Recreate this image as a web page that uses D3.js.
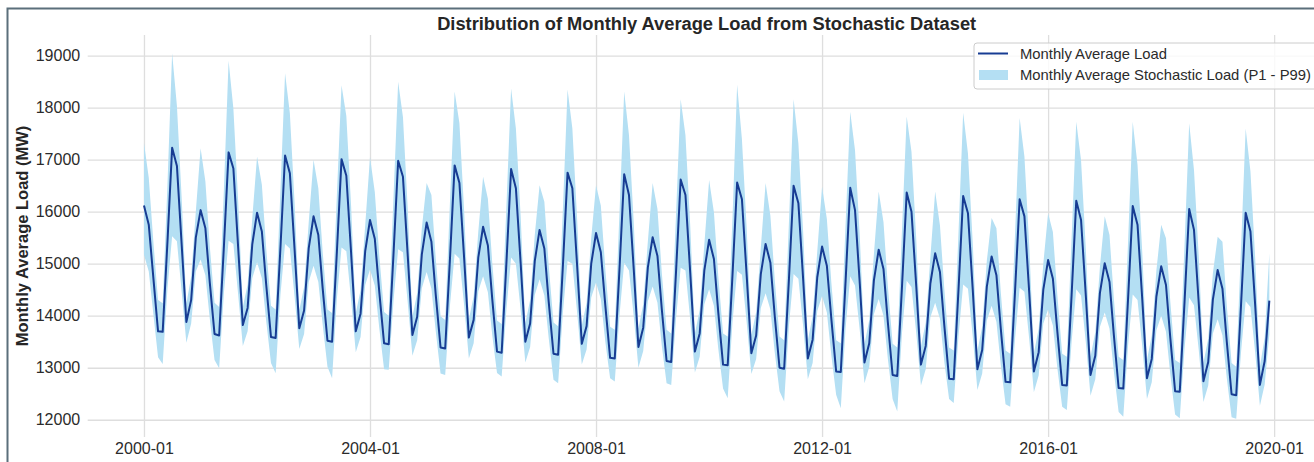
<!DOCTYPE html>
<html>
<head>
<meta charset="utf-8">
<script src="https://cdn.jsdelivr.net/npm/d3@7"></script>
<style>
  html, body { margin: 0; padding: 0; background: #fff; }
  svg { display: block; font-family: "Liberation Sans", Arial, sans-serif; }
  .axis line { stroke: #dedede; stroke-width: 1.3; }
  .axis path { display: none; }
  .axis text { fill: #2b2b2b; font-size: 16px; }
</style>
</head>
<body>
<div id="chart"></div>
<script>
'use strict';

const firstMonth = '2000-01';
const lastMonth = '2019-12';
const xTickLabels = ['2000-01', '2004-01', '2008-01', '2012-01', '2016-01', '2020-01'];
const yTicks = [12000, 13000, 14000, 15000, 16000, 17000, 18000, 19000];

// monthly average load (MW), one row per year, Jan..Dec
const loadMean = [
    16120, 15750, 14750, 13700, 13690, 15430, 17230, 16880, 15350, 13880, 14300, 15500,
    16030, 15680, 14650, 13650, 13620, 15350, 17140, 16830, 15300, 13820, 14150, 15370,
    15980, 15620, 14600, 13590, 13570, 15300, 17080, 16740, 15250, 13760, 14100, 15300,
    15910, 15550, 14530, 13520, 13500, 15230, 17010, 16690, 15200, 13700, 14040, 15240,
    15840, 15480, 14460, 13470, 13450, 15190, 16980, 16670, 15150, 13630, 13980, 15180,
    15790, 15420, 14400, 13390, 13370, 15100, 16890, 16550, 15080, 13580, 13920, 15120,
    15710, 15350, 14330, 13310, 13290, 15030, 16820, 16450, 15000, 13500, 13850, 15050,
    15650, 15290, 14270, 13270, 13250, 14970, 16750, 16450, 14950, 13460, 13800, 15000,
    15590, 15220, 14200, 13190, 13180, 14920, 16720, 16320, 14880, 13400, 13770, 14930,
    15510, 15150, 14130, 13130, 13110, 14840, 16620, 16320, 14820, 13310, 13660, 14870,
    15460, 15090, 14070, 13060, 13050, 14780, 16560, 16240, 14760, 13280, 13620, 14800,
    15380, 15020, 14000, 13000, 12980, 14710, 16500, 16160, 14690, 13180, 13540, 14740,
    15330, 14960, 13940, 12930, 12920, 14660, 16460, 16030, 14610, 13100, 13470, 14680,
    15270, 14900, 13880, 12860, 12840, 14580, 16370, 16000, 14560, 13060, 13420, 14620,
    15200, 14840, 13820, 12790, 12780, 14510, 16300, 15970, 14500, 12970, 13340, 14560,
    15140, 14780, 13760, 12730, 12720, 14450, 16240, 15910, 14450, 12930, 13300, 14500,
    15070, 14710, 13690, 12670, 12660, 14400, 16210, 15840, 14380, 12860, 13230, 14440,
    15010, 14650, 13630, 12610, 12600, 14330, 16110, 15750, 14300, 12800, 13170, 14370,
    14950, 14590, 13570, 12550, 12540, 14270, 16050, 15650, 14230, 12740, 13110, 14310,
    14880, 14520, 13500, 12490, 12470, 14200, 15980, 15620, 14180, 12670, 13130, 14290
];

// P1 of the stochastic monthly average load (MW)
const loadP1 = [
    15170, 14850, 14050, 13200, 13070, 14530, 15530, 15430, 14450, 13480, 13850, 14850,
    15080, 14780, 13950, 13150, 12990, 14450, 15440, 15380, 14400, 13420, 13700, 14720,
    15030, 14720, 13900, 13090, 12895, 14400, 15380, 15290, 14350, 13360, 13650, 14650,
    14960, 14650, 13830, 13020, 12800, 14330, 15310, 15240, 14300, 13300, 13590, 14590,
    14890, 14580, 13760, 12970, 12960, 14290, 15280, 15220, 14250, 13230, 13530, 14530,
    14840, 14520, 13700, 12890, 12860, 14200, 15190, 15100, 14180, 13180, 13470, 14470,
    14760, 14450, 13630, 12900, 12830, 14130, 15120, 15000, 14100, 13100, 13400, 14400,
    14700, 14390, 13570, 12770, 12700, 14070, 15050, 15000, 14050, 13060, 13350, 14350,
    14640, 14320, 13500, 12800, 12735, 14020, 15020, 14870, 13980, 13000, 13320, 14280,
    14560, 14250, 13430, 12700, 12670, 13940, 14920, 14870, 13920, 12910, 13210, 14220,
    14510, 14190, 13370, 12600, 12415, 13880, 14860, 14790, 13860, 12880, 13170, 14150,
    14430, 14120, 13300, 12550, 12350, 13810, 14800, 14710, 13790, 12780, 13090, 14090,
    14380, 14060, 13240, 12480, 12220, 13760, 14760, 14580, 13710, 12700, 13020, 14030,
    14320, 14000, 13180, 12400, 12160, 13680, 14670, 14550, 13660, 12660, 12970, 13970,
    14250, 13940, 13120, 12400, 12320, 13610, 14600, 14520, 13600, 12570, 12890, 13910,
    14190, 13880, 13060, 12300, 12250, 13550, 14540, 14460, 13550, 12530, 12850, 13850,
    14120, 13810, 12990, 12250, 12190, 13500, 14510, 14390, 13480, 12460, 12780, 13790,
    14060, 13750, 12930, 12150, 12060, 13430, 14410, 14300, 13400, 12400, 12720, 13720,
    14000, 13690, 12870, 12100, 12030, 13370, 14350, 14200, 13330, 12340, 12660, 13660,
    13930, 13620, 12800, 12050, 12020, 13300, 14280, 14170, 13280, 12270, 12680, 13640
];

// P99 of the stochastic monthly average load (MW)
const loadP99 = [
    17320, 16650, 15450, 14300, 14240, 16530, 19045, 18030, 16250, 14230, 14750, 16000,
    17220, 16580, 15350, 14250, 14170, 16450, 18900, 17980, 16200, 14170, 14600, 15870,
    17060, 16520, 15300, 14190, 14120, 16400, 18660, 17890, 16150, 14110, 14550, 15800,
    17000, 16450, 15230, 14120, 14050, 16330, 18430, 17840, 16100, 14050, 14490, 15740,
    17050, 16380, 15160, 14070, 14000, 16290, 18500, 17820, 16050, 13980, 14430, 15680,
    16550, 16320, 15100, 13990, 13920, 16200, 18310, 17700, 15980, 13930, 14370, 15620,
    16670, 16250, 15030, 13910, 13840, 16130, 18370, 17600, 15900, 13850, 14300, 15550,
    16510, 16190, 14970, 13870, 13800, 16070, 18350, 17600, 15850, 13810, 14250, 15500,
    16510, 16120, 14900, 13790, 13730, 16020, 18310, 17470, 15780, 13750, 14220, 15430,
    16550, 16050, 14830, 13730, 13660, 15940, 18160, 17470, 15720, 13660, 14110, 15370,
    16610, 15990, 14770, 13660, 13600, 15880, 18440, 17390, 15660, 13630, 14070, 15300,
    16550, 15920, 14700, 13600, 13530, 15810, 18160, 17310, 15590, 13530, 13990, 15240,
    16480, 15860, 14640, 13530, 13470, 15760, 17920, 17180, 15510, 13450, 13920, 15180,
    16390, 15800, 14580, 13460, 13390, 15680, 17830, 17150, 15460, 13410, 13870, 15120,
    16390, 15740, 14520, 13390, 13330, 15610, 17900, 17120, 15400, 13320, 13790, 15060,
    15880, 15680, 14460, 13330, 13270, 15550, 17800, 17060, 15350, 13280, 13750, 15000,
    15970, 15610, 14390, 13270, 13210, 15500, 17730, 16990, 15280, 13210, 13680, 14940,
    15910, 15550, 14330, 13210, 13150, 15430, 17730, 16900, 15200, 13150, 13620, 14870,
    15750, 15490, 14270, 13150, 13090, 15370, 17700, 16800, 15130, 13090, 13560, 14810,
    15520, 15420, 14200, 13090, 13020, 15300, 17600, 16770, 15080, 13020, 13580, 15200
];

const W = 1314, H = 462;
const plot = { left: 87.7, right: 1325.6, top: 35, bottom: 437 };

const parseMonth = d3.timeParse('%Y-%m');
const fmtMonth = d3.timeFormat('%Y-%m');
const months = d3.timeMonth.range(parseMonth(firstMonth), d3.timeMonth.offset(parseMonth(lastMonth), 1));
const series = months.map((date, i) => ({ date, mean: loadMean[i], p1: loadP1[i], p99: loadP99[i] }));

// 5% padding on both axes, like the plotting library did
let t0 = months[0].getTime(), t1 = months[months.length - 1].getTime();
let tPad = (t1 - t0) * 0.05;
let x = d3.scaleTime()
          .domain([new Date(t0 - tPad), new Date(t1 + tPad)])
          .range([plot.left, plot.right]);

let yMin = d3.min(loadP1), yMax = d3.max(loadP99);
let yPad = (yMax - yMin) * 0.05;
let y = d3.scaleLinear()
          .domain([yMin - yPad, yMax + yPad])
          .range([plot.bottom, plot.top]);

let svg = d3.select('#chart').append('svg')
            .attr('width', W)
            .attr('height', H);

// outer frame of the screenshot
svg.append('path')
   .attr('d', `M7.5,${H} V8.5 H${W}`)
   .attr('fill', 'none')
   .attr('stroke', '#5b6f7b')
   .attr('stroke-width', 2);

let xAxis = d3.axisBottom(x)
              .tickValues(xTickLabels.map(parseMonth))
              .tickFormat(fmtMonth)
              .tickSize(-(plot.bottom - plot.top))
              .tickPadding(6);
let yAxis = d3.axisLeft(y)
              .tickValues(yTicks)
              .tickFormat(d3.format('d'))
              .tickSize(-(plot.right - plot.left))
              .tickPadding(7.5);

svg.append('g').attr('class', 'x axis')
   .attr('transform', `translate(0,${plot.bottom})`)
   .call(xAxis);
svg.append('g').attr('class', 'y axis')
   .attr('transform', `translate(${plot.left},0)`)
   .call(yAxis);

let band = d3.area()
             .x(d => x(d.date))
             .y0(d => y(d.p1))
             .y1(d => y(d.p99));
let meanLine = d3.line()
                 .x(d => x(d.date))
                 .y(d => y(d.mean));

svg.append('path')
   .attr('d', band(series))
   .attr('fill', '#b4dff3');
svg.append('path')
   .attr('d', meanLine(series))
   .attr('fill', 'none')
   .attr('stroke', '#173c93')
   .attr('stroke-width', 2)
   .attr('stroke-linejoin', 'round');

// title and y label
svg.append('text')
   .attr('x', (plot.left + plot.right) / 2)
   .attr('y', 30)
   .attr('text-anchor', 'middle')
   .attr('font-size', '18.3px')
   .attr('font-weight', 'bold')
   .attr('fill', '#262626')
   .text('Distribution of Monthly Average Load from Stochastic Dataset');

svg.append('text')
   .attr('transform', `translate(22,${(plot.top + plot.bottom) / 2}) rotate(-90)`)
   .attr('text-anchor', 'middle')
   .attr('dominant-baseline', 'central')
   .attr('font-size', '16.5px')
   .attr('font-weight', 'bold')
   .attr('fill', '#262626')
   .text('Monthly Average Load (MW)');

// legend
let legend = svg.append('g').attr('transform', 'translate(974,43)');
legend.append('rect')
      .attr('width', 344).attr('height', 46).attr('rx', 3)
      .attr('fill', '#fff').attr('fill-opacity', 0.8)
      .attr('stroke', '#cccccc');
legend.append('line')
      .attr('x1', 4).attr('x2', 34).attr('y1', 10.5).attr('y2', 10.5)
      .attr('stroke', '#173c93').attr('stroke-width', 2);
legend.append('rect')
      .attr('x', 5).attr('y', 27).attr('width', 29).attr('height', 10)
      .attr('fill', '#b4dff3');
legend.selectAll('.label')
      .data(['Monthly Average Load', 'Monthly Average Stochastic Load (P1 - P99)'])
      .enter().append('text')
              .attr('class', 'label')
              .attr('x', 46)
              .attr('y', (d, i) => 11 + i * 21)
              .attr('dominant-baseline', 'central')
              .attr('font-size', '14.8px')
              .attr('fill', '#2b2b2b')
              .text(d => d);
</script>
</body>
</html>
